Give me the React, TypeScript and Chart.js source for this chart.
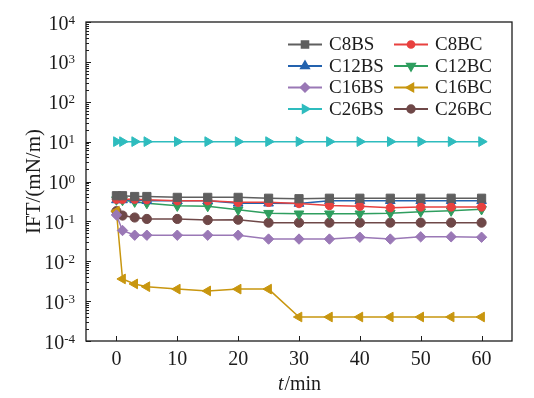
import React, { useEffect, useRef } from 'react';
import { Chart, registerables } from 'chart.js';
import { drawPoint } from 'chart.js/helpers';

Chart.register(...registerables);

const times = [0, 1, 3, 5, 10, 15, 20, 25, 30, 35, 40, 45, 50, 55, 60];
const c8bs = [0.44, 0.44, 0.42, 0.42, 0.40, 0.40, 0.40, 0.38, 0.37, 0.38, 0.38, 0.38, 0.38, 0.38, 0.38];
const c8bc = [0.36, 0.36, 0.36, 0.35, 0.33, 0.33, 0.30, 0.30, 0.28, 0.25, 0.24, 0.22, 0.23, 0.23, 0.23];
const c12bs = [0.345, 0.345, 0.345, 0.33, 0.33, 0.33, 0.285, 0.285, 0.28, 0.33, 0.33, 0.33, 0.33, 0.33, 0.33];
const c12bc = [0.35, 0.34, 0.31, 0.285, 0.245, 0.24, 0.195, 0.16, 0.155, 0.155, 0.155, 0.16, 0.175, 0.185, 0.20];
const c16bs = [0.145, 0.059, 0.045, 0.045, 0.045, 0.045, 0.045, 0.036, 0.036, 0.036, 0.040, 0.036, 0.041, 0.041, 0.040];
const c16bc = [0.18, 0.0036, 0.0027, 0.0023, 0.0020, 0.0018, 0.0020, 0.0020, 0.0004, 0.0004, 0.0004, 0.0004, 0.0004, 0.0004, 0.0004];
const c26bs = [10, 10, 10, 10, 10, 10, 10, 10, 10, 10, 10, 10, 10, 10, 10];
const c26bc = [0.18, 0.14, 0.125, 0.115, 0.115, 0.108, 0.11, 0.093, 0.093, 0.093, 0.093, 0.093, 0.093, 0.093, 0.093];

const seriesNames = ['C8BS', 'C8BC', 'C12BS', 'C12BC', 'C16BS', 'C16BC', 'C26BS', 'C26BC'];
const seriesValues = [c8bs, c8bc, c12bs, c12bc, c16bs, c16bc, c26bs, c26bc];
const seriesColors = ['#5f5f5f', '#e8413f', '#2362ae', '#2f9e5f', '#9a78b6', '#c8960f', '#2ebcbe', '#6f4848'];
const seriesStyles = ['rect', 'circle', 'triangle', 'triangle', 'rectRot', 'triangle', 'triangle', 'circle'];
const seriesRotations = [0, 0, 0, 180, 0, 270, 90, 0];
const seriesRadius = [5.8, 4.2, 5.6, 5.6, 5.2, 5.6, 5.6, 4.6];

const xTickValues = [0, 10, 20, 30, 40, 50, 60];
const yExponents = [-4, -3, -2, -1, 0, 1, 2, 3, 4];
const xTitleItalic = 't';
const xTitleRest = '/min';
const yTitle = 'IFT/(mN/m)';

const SERIF = '"Liberation Serif", "Times New Roman", "DejaVu Serif", serif';

const isPow10 = (v: number) => Math.abs(Math.log10(v) - Math.round(Math.log10(v))) < 1e-9;

const decorPlugin = {
  id: 'decor',
  afterDraw(chart: any) {
    const ctx = chart.ctx as CanvasRenderingContext2D;
    const { left, right, top, bottom } = chart.chartArea;
    const xs = chart.scales.x;
    const ys = chart.scales.y;
    ctx.save();
    ctx.strokeStyle = '#1c1c1c';
    ctx.lineWidth = 1.3;
    ctx.strokeRect(left, top, right - left, bottom - top);

    // y ticks (inside)
    ctx.lineWidth = 1;
    ys.ticks.forEach((t: any) => {
      const y = Math.round(ys.getPixelForValue(t.value)) + 0.5;
      const major = isPow10(t.value);
      ctx.beginPath();
      ctx.moveTo(left, y);
      ctx.lineTo(left + (major ? 5 : 3), y);
      ctx.stroke();
    });
    // x ticks (inside)
    xs.ticks.forEach((t: any) => {
      const x = Math.round(xs.getPixelForValue(t.value)) + 0.5;
      ctx.beginPath();
      ctx.moveTo(x, bottom);
      ctx.lineTo(x, bottom - 5);
      ctx.stroke();
    });

    // y tick labels 10^n
    ctx.fillStyle = '#1c1c1c';
    ctx.textBaseline = 'alphabetic';
    yExponents.forEach((e) => {
      const y = ys.getPixelForValue(Math.pow(10, e));
      const sup = String(e);
      ctx.font = `13px ${SERIF}`;
      const supW = ctx.measureText(sup).width;
      ctx.font = `20px ${SERIF}`;
      const baseW = ctx.measureText('10').width;
      const rightEdge = 75;
      const x0 = rightEdge - supW - baseW;
      ctx.textAlign = 'left';
      ctx.fillText('10', x0, y + 7.5);
      ctx.font = `13px ${SERIF}`;
      ctx.fillText(sup, x0 + baseW, y + 1.5);
    });

    // x title
    ctx.font = `italic 20px ${SERIF}`;
    const wI = ctx.measureText(xTitleItalic).width;
    ctx.font = `20px ${SERIF}`;
    const wR = ctx.measureText(xTitleRest).width;
    const cx = (left + right) / 2;
    const sx = cx - (wI + wR) / 2;
    ctx.textAlign = 'left';
    ctx.font = `italic 20px ${SERIF}`;
    ctx.fillText(xTitleItalic, sx, 390);
    ctx.font = `20px ${SERIF}`;
    ctx.fillText(xTitleRest, sx + wI + 1, 390);

    // y title
    ctx.save();
    ctx.translate(40, (top + bottom) / 2);
    ctx.rotate(-Math.PI / 2);
    ctx.font = `21px ${SERIF}`;
    ctx.textAlign = 'center';
    ctx.fillText(yTitle, 0, 0);
    ctx.restore();

    // legend
    const colX = [288, 394];
    const rowY0 = 44.5;
    const rowH = 21.5;
    seriesNames.forEach((name, i) => {
      const col = i % 2;
      const row = Math.floor(i / 2);
      const lx = colX[col];
      const ly = rowY0 + row * rowH;
      ctx.strokeStyle = seriesColors[i];
      ctx.fillStyle = seriesColors[i];
      ctx.lineWidth = 2;
      ctx.beginPath();
      ctx.moveTo(lx, ly);
      ctx.lineTo(lx + 34, ly);
      ctx.stroke();
      drawPoint(ctx, { pointStyle: seriesStyles[i] as any, rotation: seriesRotations[i], radius: seriesRadius[i] * 0.8, borderWidth: 1 }, lx + 17, ly);
      ctx.fillStyle = '#1c1c1c';
      ctx.font = `19px ${SERIF}`;
      ctx.textAlign = 'left';
      ctx.textBaseline = 'middle';
      ctx.fillText(name, lx + 41, ly + 1);
    });
    ctx.restore();
  },
};

export default function App() {
  const canvasRef = useRef<HTMLCanvasElement | null>(null);

  useEffect(() => {
    document.body.style.margin = '0';
    const canvas = canvasRef.current;
    if (!canvas) return;
    const datasets = seriesNames.map((name, i) => ({
      label: name,
      data: times.map((t, j) => ({ x: t, y: seriesValues[i][j] })),
      borderColor: seriesColors[i],
      backgroundColor: seriesColors[i],
      pointBackgroundColor: seriesColors[i],
      pointBorderColor: seriesColors[i],
      pointStyle: seriesStyles[i] as any,
      rotation: seriesRotations[i],
      pointRadius: seriesRadius[i],
      pointBorderWidth: 1,
      borderWidth: 1.5,
      tension: 0,
      fill: false,
    }));
    const chart = new Chart(canvas, {
      type: 'line',
      data: { datasets },
      plugins: [decorPlugin],
      options: {
        animation: false,
        responsive: false,
        devicePixelRatio: 1,
        layout: { padding: { left: 0, right: 22, top: 22, bottom: 0 } },
        plugins: { legend: { display: false }, tooltip: { enabled: false } },
        scales: {
          x: {
            type: 'linear',
            min: -5,
            max: 65,
            grid: { display: false, drawTicks: false },
            border: { display: false },
            afterBuildTicks: (s: any) => {
              s.ticks = xTickValues.map((v) => ({ value: v }));
            },
            afterFit: (s: any) => {
              s.height = 57;
            },
            ticks: {
              autoSkip: false,
              maxRotation: 0,
              padding: 7,
              color: '#1c1c1c',
              font: { family: SERIF, size: 20 },
            },
          },
          y: {
            type: 'logarithmic',
            min: 1e-4,
            max: 1e4,
            grid: { display: false, drawTicks: false },
            border: { display: false },
            afterBuildTicks: (s: any) => {
              const arr: { value: number }[] = [];
              for (let e = -4; e <= 4; e++) {
                for (let m = 1; m <= 9; m++) {
                  if (e === 4 && m > 1) break;
                  arr.push({ value: m * Math.pow(10, e) });
                }
              }
              s.ticks = arr;
            },
            afterFit: (s: any) => {
              s.width = 86;
            },
            ticks: { display: false },
          },
        },
      },
    });
    return () => chart.destroy();
  }, []);

  return <canvas ref={canvasRef} width={534} height={398} style={{ display: 'block', width: 534, height: 398 }} />;
}
